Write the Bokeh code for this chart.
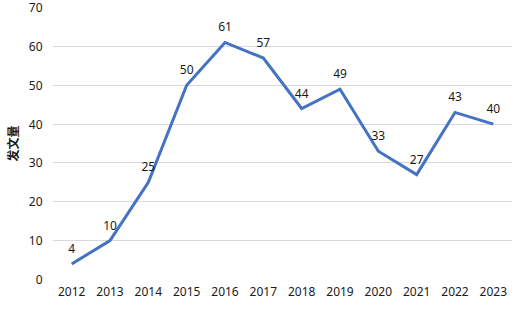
from bokeh.plotting import figure
from bokeh.models import ColumnDataSource, FactorRange, Range1d, FixedTicker, LabelSet
from bokeh.core.properties import value
from bokeh.embed import file_html
from bokeh.resources import INLINE

years = ["2012", "2013", "2014", "2015", "2016", "2017", "2018", "2019", "2020", "2021", "2022", "2023"]
counts = [4, 10, 25, 50, 61, 57, 44, 49, 33, 27, 43, 40]
y_ticks = [0, 10, 20, 30, 40, 50, 60, 70]
y_title = "发文量"

src = ColumnDataSource(dict(x=years, y=counts, label=[str(v) for v in counts]))

p = figure(frame_width=460, frame_height=272, x_range=FactorRange(factors=years), y_range=Range1d(0, 70),
           output_backend="svg", toolbar_location=None,
           min_border_left=47, min_border_right=0, min_border_top=7, min_border_bottom=0)
p.outline_line_color = None
p.background_fill_color = "white"

p.line("x", "y", source=src, line_color="#4472C4", line_width=3, line_join="miter")

labels = LabelSet(x="x", y="y", text="label", source=src, text_align="center", text_baseline="bottom",
                  y_offset=11, text_font=value("Noto Sans"), text_font_size="12px", text_color="#1a1a1a")
p.add_layout(labels)

p.yaxis.ticker = FixedTicker(ticks=y_ticks)
p.ygrid.ticker = FixedTicker(ticks=y_ticks)
p.ygrid.grid_line_color = "#D9D9D9"
p.ygrid.grid_line_width = 1
p.xgrid.grid_line_color = None

for ax in (p.xaxis[0], p.yaxis[0]):
    ax.axis_line_color = None
    ax.major_tick_line_color = None
    ax.minor_tick_line_color = None
    ax.major_tick_out = 0
    ax.major_tick_in = 0
    ax.major_label_text_font = "Noto Sans"
    ax.major_label_text_font_size = "12px"
    ax.major_label_text_color = "#1a1a1a"

p.yaxis.major_label_standoff = 10
p.xaxis.major_label_standoff = 7
p.yaxis.axis_label = y_title
p.yaxis.axis_label_text_font = "Noto Sans CJK SC"
p.yaxis.axis_label_text_font_size = "12px"
p.yaxis.axis_label_text_font_style = "bold"
p.yaxis.axis_label_text_color = "#1a1a1a"
p.yaxis.axis_label_standoff = 5

open("out.html", "w").write(file_html(p, INLINE))
